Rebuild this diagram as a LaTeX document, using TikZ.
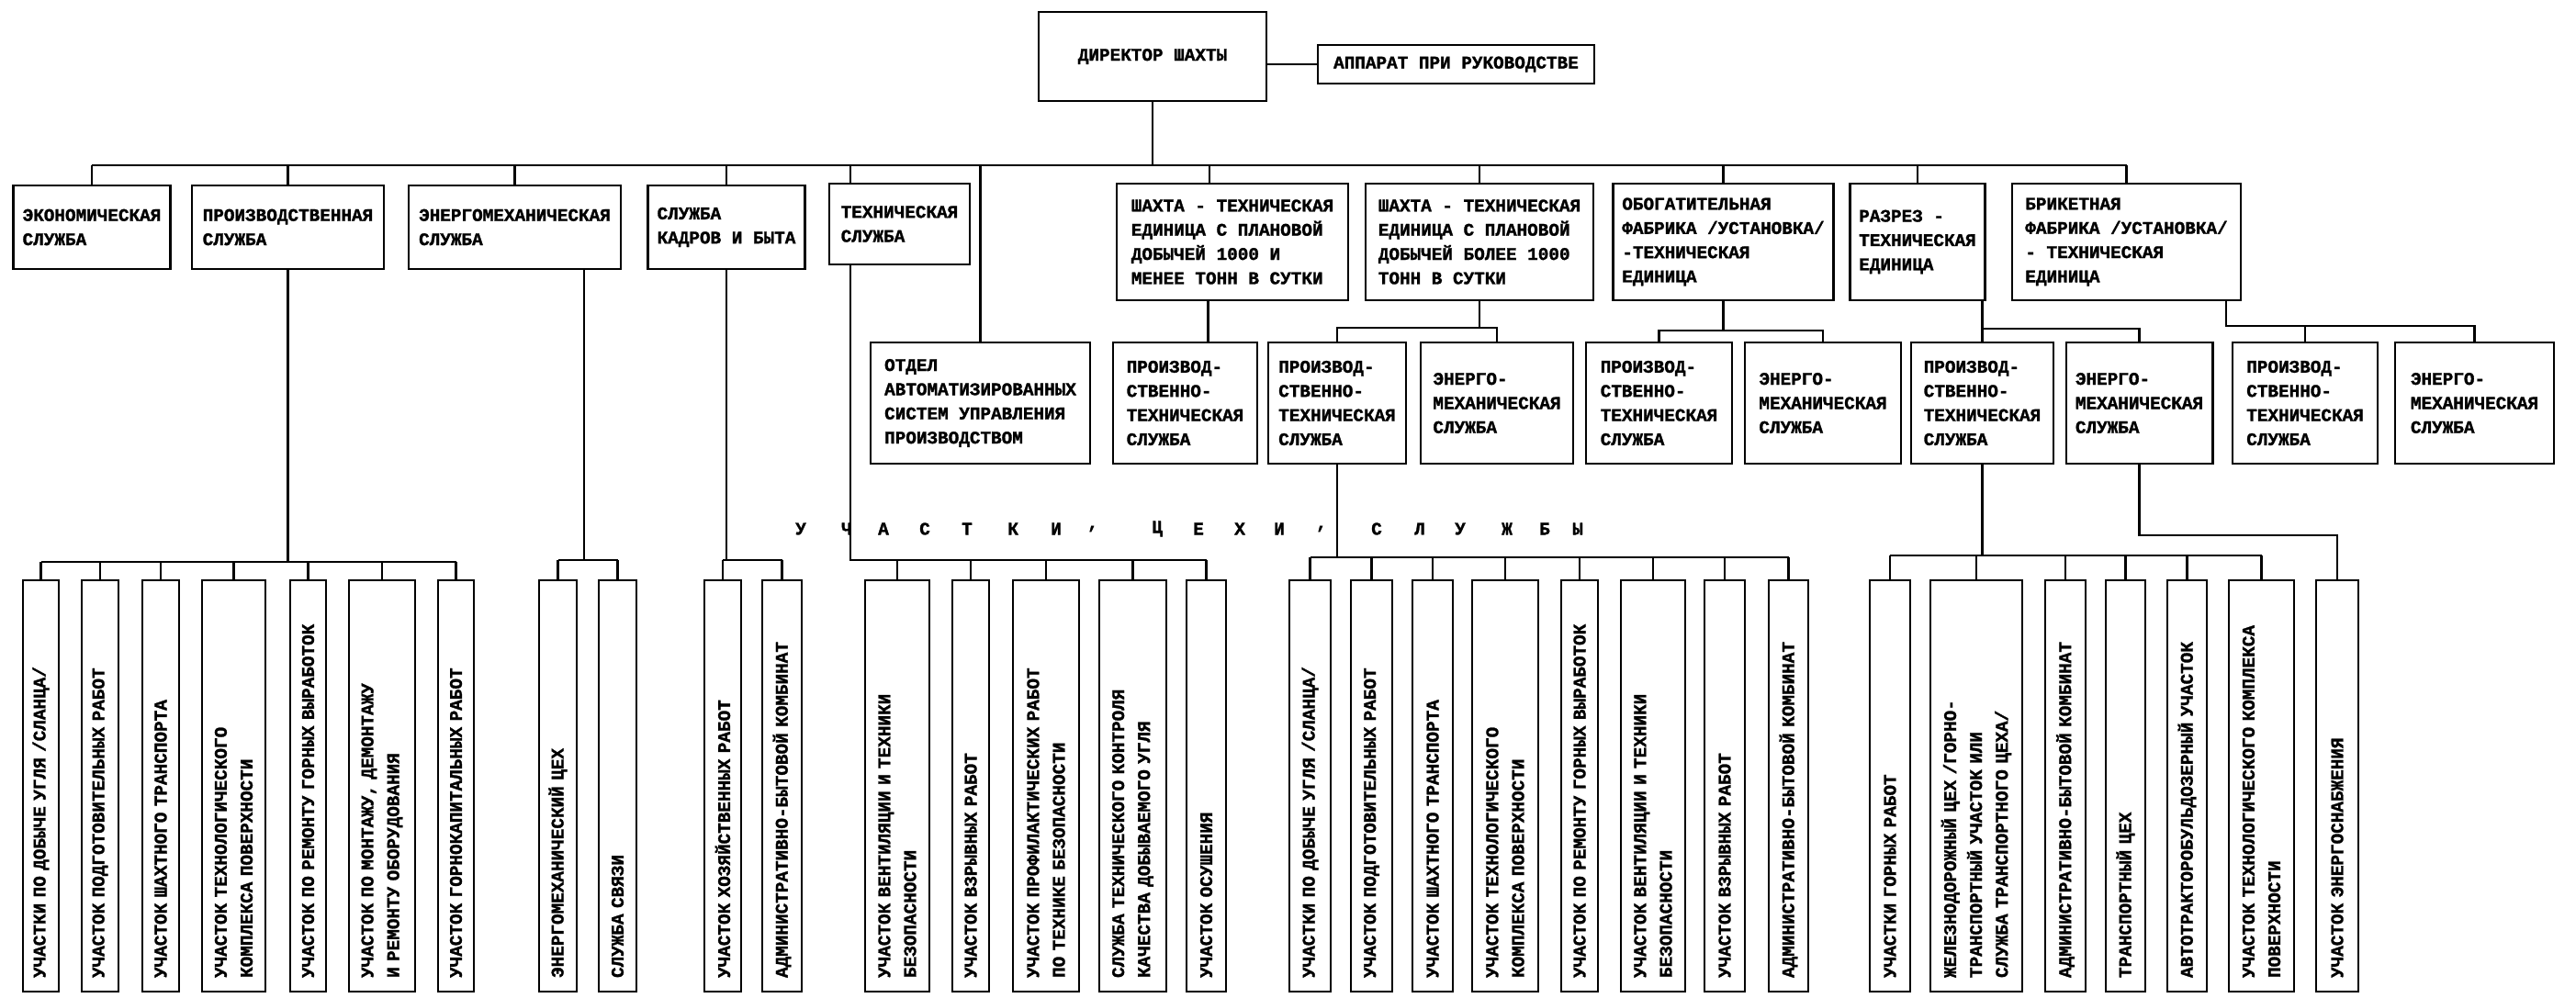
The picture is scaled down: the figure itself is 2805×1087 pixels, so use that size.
\documentclass[tikz,border=0pt]{standalone}
\usepackage{fontspec}
\setmainfont{Liberation Mono}[BoldFeatures = {FakeBold = 1.5}]

\tikzset{
	box/.style = {draw, line width = 1.6pt, align = left, inner sep = 0.2cm, font = \fontsize{11}{15}\selectfont\bfseries},
	wd/.style = {minimum width = #1*0.02cm},
	ht/.style = {minimum height = #1*0.02cm},
	unit/.style = {box, rotate = 90, minimum width = 8.96cm, inner xsep = 0.3cm, inner ysep = 0.1cm, text width = 8.36cm, font = \fontsize{11}{16}\selectfont\bfseries},
	link/.style = {line width = 1.2pt},
}

\begin{document}
\begin{tikzpicture}[x = 0.02cm, y = -0.02cm]
	\useasboundingbox (0, 0) rectangle (2805, 1087);

	\coordinate (mainbus) at (0, 180);
	\coordinate (sbus) at (0, 357);
	\coordinate (obus) at (0, 360);
	\coordinate (rbus) at (0, 358);
	\coordinate (bbus) at (0, 355);
	\coordinate (pbus) at (0, 612);
	\coordinate (ebus) at (636, 610);
	\coordinate (kbus) at (0, 610);
	\coordinate (tbus) at (926, 610);
	\coordinate (p2bus) at (0, 607);
	\coordinate (p4bus) at (0, 605);
	\coordinate (e4bus) at (0, 583);

	\node[box, wd = 248, ht = 97] (dir) at (1255, 61.5) {ДИРЕКТОР ШАХТЫ};
	\node[box, wd = 301, ht = 42, inner xsep = 0.1cm] (apm) at (1585.5, 70) {АППАРАТ ПРИ РУКОВОДСТВЕ};

	\node[box, wd = 170, ht = 91] (econ) at (100, 247.5) {ЭКОНОМИЧЕСКАЯ\\СЛУЖБА};
	\node[box, wd = 209, ht = 91] (prod) at (313.5, 247.5) {ПРОИЗВОДСТВЕННАЯ\\СЛУЖБА};
	\node[box, wd = 231, ht = 91] (enmech) at (560.5, 247.5) {ЭНЕРГОМЕХАНИЧЕСКАЯ\\СЛУЖБА};
	\node[box, wd = 170, ht = 91] (kadr) at (791, 247.5) {СЛУЖБА\\КАДРОВ И БЫТА};
	\node[box, wd = 153, ht = 88] (tech) at (979.5, 244) {ТЕХНИЧЕСКАЯ\\СЛУЖБА};
	\node[box, wd = 252, ht = 127] (sh1) at (1342, 263.5) {ШАХТА - ТЕХНИЧЕСКАЯ\\ЕДИНИЦА С ПЛАНОВОЙ\\ДОБЫЧЕЙ 1000 И\\МЕНЕЕ ТОНН В СУТКИ};
	\node[box, wd = 248, ht = 127] (sh2) at (1611, 263.5) {ШАХТА - ТЕХНИЧЕСКАЯ\\ЕДИНИЦА С ПЛАНОВОЙ\\ДОБЫЧЕЙ БОЛЕЕ 1000\\ТОНН В СУТКИ};
	\node[box, wd = 239, ht = 127] (obog) at (1876.5, 263.5) {ОБОГАТИТЕЛЬНАЯ\\ФАБРИКА /УСТАНОВКА/\\-ТЕХНИЧЕСКАЯ\\ЕДИНИЦА};
	\node[box, wd = 144, ht = 127] (razr) at (2088, 263.5) {РАЗРЕЗ -\\ТЕХНИЧЕСКАЯ\\ЕДИНИЦА};
	\node[box, wd = 249, ht = 127] (brik) at (2315.5, 263.5) {БРИКЕТНАЯ\\ФАБРИКА /УСТАНОВКА/\\- ТЕХНИЧЕСКАЯ\\ЕДИНИЦА};

	\node[box, wd = 239, ht = 132] (asu) at (1067.5, 439) {ОТДЕЛ\\АВТОМАТИЗИРОВАННЫХ\\СИСТЕМ УПРАВЛЕНИЯ\\ПРОИЗВОДСТВОМ};
	\foreach \n/\x/\w in {pts1/1290.5/157, pts2/1456/150, pts3/1806.5/159, pts4/2158.5/155, pts5/2510/158}
	\node[box, wd = \w, ht = 132] (\n) at (\x, 439) {ПРОИЗВОД-\\СТВЕННО-\\ТЕХНИЧЕСКАЯ\\СЛУЖБА};
	\foreach \n/\x/\w in {em2/1630/166, em3/1985/170, em4/2329.5/159, em5/2694.5/173}
	\node[box, wd = \w, ht = 132] (\n) at (\x, 439) {ЭНЕРГО-\\МЕХАНИЧЕСКАЯ\\СЛУЖБА};

	\node[unit, ht = 39] (pa1) at (44.5, 856) {УЧАСТКИ ПО ДОБЫЧЕ УГЛЯ /СЛАНЦА/};
	\node[unit, ht = 40] (pa2) at (109, 856) {УЧАСТОК ПОДГОТОВИТЕЛЬНЫХ РАБОТ};
	\node[unit, ht = 40] (pa3) at (175, 856) {УЧАСТОК ШАХТНОГО ТРАНСПОРТА};
	\node[unit, ht = 69] (pa4) at (254.5, 856) {УЧАСТОК ТЕХНОЛОГИЧЕСКОГО\\КОМПЛЕКСА ПОВЕРХНОСТИ};
	\node[unit, ht = 39] (pa5) at (335.5, 856) {УЧАСТОК ПО РЕМОНТУ ГОРНЫХ ВЫРАБОТОК};
	\node[unit, ht = 72] (pa6) at (416, 856) {УЧАСТОК ПО МОНТАЖУ, ДЕМОНТАЖУ\\И РЕМОНТУ ОБОРУДОВАНИЯ};
	\node[unit, ht = 39] (pa7) at (496.5, 856) {УЧАСТОК ГОРНОКАПИТАЛЬНЫХ РАБОТ};

	\node[unit, ht = 41] (ea1) at (607.5, 856) {ЭНЕРГОМЕХАНИЧЕСКИЙ ЦЕХ};
	\node[unit, ht = 41] (ea2) at (672.5, 856) {СЛУЖБА СВЯЗИ};
	\node[unit, ht = 40] (ka1) at (787, 856) {УЧАСТОК ХОЗЯЙСТВЕННЫХ РАБОТ};
	\node[unit, ht = 43] (ka2) at (851.5, 856) {АДМИНИСТРАТИВНО-БЫТОВОЙ КОМБИНАТ};

	\node[unit, ht = 70] (ta1) at (977, 856) {УЧАСТОК ВЕНТИЛЯЦИИ И ТЕХНИКИ\\БЕЗОПАСНОСТИ};
	\node[unit, ht = 40] (ta2) at (1057, 856) {УЧАСТОК ВЗРЫВНЫХ РАБОТ};
	\node[unit, ht = 72] (ta3) at (1139, 856) {УЧАСТОК ПРОФИЛАКТИЧЕСКИХ РАБОТ\\ПО ТЕХНИКЕ БЕЗОПАСНОСТИ};
	\node[unit, ht = 73] (ta4) at (1233.5, 856) {СЛУЖБА ТЕХНИЧЕСКОГО КОНТРОЛЯ\\КАЧЕСТВА ДОБЫВАЕМОГО УГЛЯ};
	\node[unit, ht = 43] (ta5) at (1313.5, 856) {УЧАСТОК ОСУШЕНИЯ};

	\node[unit, ht = 45] (pb1) at (1426.5, 856) {УЧАСТКИ ПО ДОБЫЧЕ УГЛЯ /СЛАНЦА/};
	\node[unit, ht = 45] (pb2) at (1493.5, 856) {УЧАСТОК ПОДГОТОВИТЕЛЬНЫХ РАБОТ};
	\node[unit, ht = 44] (pb3) at (1560, 856) {УЧАСТОК ШАХТНОГО ТРАНСПОРТА};
	\node[unit, ht = 72] (pb4) at (1639, 856) {УЧАСТОК ТЕХНОЛОГИЧЕСКОГО\\КОМПЛЕКСА ПОВЕРХНОСТИ};
	\node[unit, ht = 40] (pb5) at (1720, 856) {УЧАСТОК ПО РЕМОНТУ ГОРНЫХ ВЫРАБОТОК};
	\node[unit, ht = 70] (pb6) at (1800, 856) {УЧАСТОК ВЕНТИЛЯЦИИ И ТЕХНИКИ\\БЕЗОПАСНОСТИ};
	\node[unit, ht = 44] (pb7) at (1878, 856) {УЧАСТОК ВЗРЫВНЫХ РАБОТ};
	\node[unit, ht = 43] (pb8) at (1947.5, 856) {АДМИНИСТРАТИВНО-БЫТОВОЙ КОМБИНАТ};

	\node[unit, ht = 44] (pc1) at (2058, 856) {УЧАСТКИ ГОРНЫХ РАБОТ};
	\node[unit, ht = 100] (pc2) at (2152, 856) {ЖЕЛЕЗНОДОРОЖНЫЙ ЦЕХ /ГОРНО-\\ТРАНСПОРТНЫЙ УЧАСТОК ИЛИ\\СЛУЖБА ТРАНСПОРТНОГО ЦЕХА/};
	\node[unit, ht = 44] (pc3) at (2249, 856) {АДМИНИСТРАТИВНО-БЫТОВОЙ КОМБИНАТ};
	\node[unit, ht = 43] (pc4) at (2314.5, 856) {ТРАНСПОРТНЫЙ ЦЕХ};
	\node[unit, ht = 43] (pc5) at (2381.5, 856) {АВТОТРАКТОРОБУЛЬДОЗЕРНЫЙ УЧАСТОК};
	\node[unit, ht = 71] (pc6) at (2462.5, 856) {УЧАСТОК ТЕХНОЛОГИЧЕСКОГО КОМПЛЕКСА\\ПОВЕРХНОСТИ};
	\node[unit, ht = 46] (ec1) at (2545, 856) {УЧАСТОК ЭНЕРГОСНАБЖЕНИЯ};

	\foreach \x/\c [count = \i] in {872/У, 922/Ч, 962/А, 1007/С, 1053/Т, 1103/К, 1150/И, 1190/{,}, 1260/Ц, 1305/Е, 1350/Х, 1393/И, 1439/{,}, 1499/С, 1546/Л, 1590/У, 1641/Ж, 1682/Б, 1718/Ы}
	\node[font = \fontsize{11}{15}\selectfont\bfseries] (hd\i) at (\x, 576) {\c};

	\draw[link] (dir.east |- apm.west) -- (apm.west);
	\draw[link] (dir.south) -- (dir.south |- mainbus);
	\draw[link] (econ.north |- mainbus) -- (brik.north |- mainbus);
	\foreach \n in {econ, prod, enmech, kadr, sh2, obog, razr, brik}
	\draw[link] (\n.north) -- (\n.north |- mainbus);
	\draw[link] ([xshift = -0.5cm]sh1.north) -- ([xshift = -0.5cm]sh1.north |- mainbus);
	\draw[link] (tbus |- tech.north) -- (tbus |- mainbus);
	\draw[link] (asu.north) -- (asu.north |- mainbus);

	\draw[link] ([xshift = 0.5cm]pts1.north) -- ([xshift = 0.5cm]pts1.north |- sh1.south);
	\draw[link] (sh2.south) -- (sh2.south |- sbus);
	\draw[link] (pts2.north) -- (pts2.north |- sbus) -- (em2.north |- sbus) -- (em2.north);
	\draw[link] (obog.south) -- (obog.south |- obus);
	\draw[link] (pts3.north) -- (pts3.north |- obus) -- (em3.north |- obus) -- (em3.north);
	\draw[link] (razr.south -| pts4.north) -- (pts4.north);
	\draw[link] (pts4.north |- rbus) -- (em4.north |- rbus) -- (em4.north);
	\draw[link] ([xshift = -0.34cm]brik.south east) -- ([xshift = -0.34cm]brik.south east |- bbus) -- (em5.north |- bbus) -- (em5.north);
	\draw[link] (pts5.north) -- (pts5.north |- bbus);

	\draw[link] (prod.south) -- (prod.south |- pbus);
	\draw[link] (pa1.east |- pbus) -- (pa7.east |- pbus);
	\foreach \i in {1, ..., 7}
	\draw[link] (pa\i.east) -- (pa\i.east |- pbus);

	\draw[link] (ebus |- enmech.south) -- (ebus);
	\draw[link] (ea1.east |- ebus) -- (ea2.east |- ebus);
	\foreach \i in {1, 2}
	\draw[link] (ea\i.east) -- (ea\i.east |- ebus);

	\draw[link] (kadr.south) -- (kadr.south |- kbus);
	\draw[link] (ka1.east |- kbus) -- (ka2.east |- kbus);
	\foreach \i in {1, 2}
	\draw[link] (ka\i.east) -- (ka\i.east |- kbus);

	\draw[link] (tbus |- tech.south) -- (tbus) -- (ta5.east |- tbus);
	\foreach \i in {1, ..., 5}
	\draw[link] (ta\i.east) -- (ta\i.east |- tbus);

	\draw[link] (pts2.south) -- (pts2.south |- p2bus);
	\draw[link] (pb1.east |- p2bus) -- (pb8.east |- p2bus);
	\foreach \i in {1, ..., 8}
	\draw[link] (pb\i.east) -- (pb\i.east |- p2bus);

	\draw[link] (pts4.south) -- (pts4.south |- p4bus);
	\draw[link] (pc1.east |- p4bus) -- (pc6.east |- p4bus);
	\foreach \i in {1, ..., 6}
	\draw[link] (pc\i.east) -- (pc\i.east |- p4bus);

	\draw[link] (em4.south) -- (em4.south |- e4bus) -| (ec1.east);
\end{tikzpicture}
\end{document}
